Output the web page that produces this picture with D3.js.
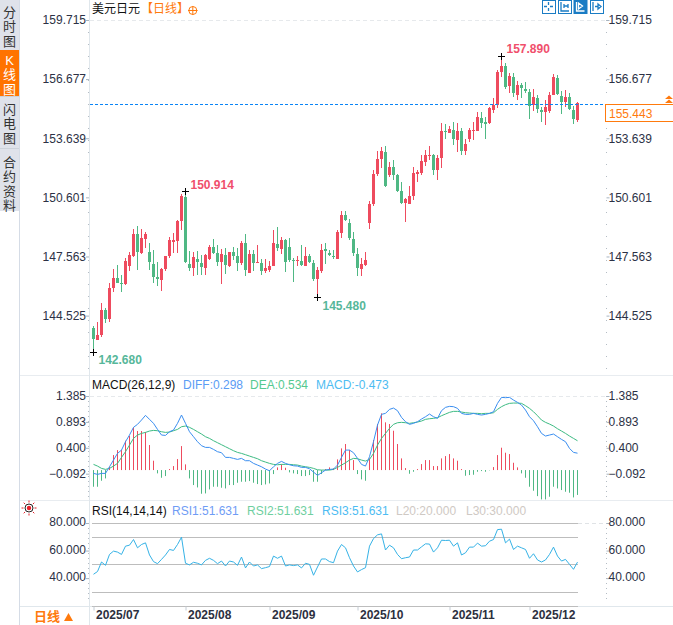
<!DOCTYPE html>
<html>
<head>
<meta charset="utf-8">
<script src="https://cdn.jsdelivr.net/npm/d3@7/dist/d3.min.js"></script>
<style>
  html, body { margin: 0; padding: 0; background: #fff; overflow: hidden; }
  text { font-family: "Liberation Sans", "Noto Sans CJK SC", sans-serif; }
</style>
</head>
<body>
<div id="chart"></div>
<script>
const opens = [
    143.88,143.27,143.53,144.81,144.35,145.94,146.45,146.20,146.15,147.07,
    147.57,148.72,147.72,148.44,147.79,147.17,146.51,146.35,146.92,147.59,
    148.31,148.36,149.39,150.62,147.17,146.97,147.43,147.23,146.97,147.43,
    148.05,147.74,147.28,147.64,147.07,147.79,147.59,147.23,148.26,146.72,
    147.69,147.23,147.23,146.82,146.87,147.07,148.21,147.95,148.41,148.05,
    147.40,147.35,147.33,147.07,147.60,147.23,146.41,146.82,147.95,147.72,
    147.59,147.43,148.77,149.70,149.28,148.46,147.69,146.92,147.13,149.28,
    150.26,151.80,152.57,152.93,151.75,152.16,151.75,150.93,150.31,150.26,
    150.67,151.80,151.84,152.44,152.74,152.78,152.01,152.63,154.03,153.93,
    154.05,153.55,154.00,152.99,153.60,154.01,154.01,154.68,154.47,154.41,
    155.09,155.35,157.04,157.35,156.32,156.77,155.86,156.37,156.17,156.01,
    155.35,155.70,155.09,154.98,155.02,155.86,156.73,155.81,155.50,155.75,155.09,154.57
];
const closes = [
    143.32,143.53,144.81,144.35,145.94,146.45,146.20,146.16,147.33,147.64,
    148.72,147.79,148.51,148.72,147.28,146.51,146.40,146.92,147.59,148.41,
    148.41,149.39,150.67,147.28,146.97,147.52,147.28,147.02,147.64,148.05,
    147.74,147.28,147.69,147.12,147.79,147.59,147.23,148.26,146.87,147.69,
    147.23,147.28,146.82,146.97,147.07,148.26,148.00,148.41,147.28,147.38,
    147.35,147.38,147.13,147.59,147.28,146.41,146.87,147.90,147.85,147.64,
    147.52,148.82,149.70,149.44,148.50,147.74,146.97,147.18,147.38,150.26,
    151.80,152.57,152.98,151.19,152.16,151.75,150.93,150.31,150.52,150.67,
    151.85,151.90,152.47,152.78,152.79,152.01,152.63,154.00,153.96,154.10,
    153.58,154.00,152.99,153.34,154.05,154.06,154.71,154.42,154.37,155.19,
    155.35,157.04,157.35,156.29,156.83,155.94,156.37,156.22,156.06,155.31,
    155.75,155.14,154.98,155.24,155.86,156.78,155.91,155.50,155.75,155.14,154.62,155.443
];
const highs = [
    144.00,144.18,145.15,144.91,146.22,146.90,147.12,146.61,147.46,147.81,
    148.95,149.13,148.95,148.84,148.27,147.89,147.30,146.95,147.59,148.55,
    148.75,149.44,150.77,150.914,147.86,147.81,147.84,147.64,147.69,148.15,
    148.46,148.15,147.93,147.98,147.81,148.03,147.98,148.36,148.72,147.90,
    147.90,148.15,147.43,147.42,147.35,148.92,149.06,148.55,148.46,148.51,
    147.49,147.59,148.15,148.03,147.69,147.38,147.01,148.21,148.26,147.90,
    147.90,148.92,149.90,149.90,149.49,148.82,147.98,147.49,147.79,150.42,
    152.01,152.98,153.21,153.24,152.42,152.52,151.80,151.39,150.57,151.19,
    152.16,152.01,152.78,153.04,153.24,152.83,152.78,154.44,154.37,154.27,
    154.46,154.41,154.15,153.58,154.18,154.46,154.99,154.99,154.75,155.26,
    155.69,157.14,157.89,157.48,157.01,156.97,156.59,156.46,156.53,156.18,
    156.18,155.86,155.26,155.60,156.03,156.94,156.89,156.08,156.11,155.98,155.29,155.50
];
const lows = [
    142.68,143.27,143.44,144.13,144.19,145.75,146.18,145.75,146.10,146.83,
    147.52,146.87,147.69,147.98,146.87,146.22,146.04,145.79,146.83,147.46,
    147.76,147.76,148.92,147.21,146.83,146.56,146.61,146.61,146.61,147.38,
    147.69,147.07,146.15,146.64,147.04,147.38,146.83,147.13,146.56,146.70,
    146.84,147.23,146.61,146.70,146.77,147.07,147.86,147.69,146.77,147.28,
    146.25,147.07,147.07,147.07,147.25,146.30,145.48,146.73,147.18,147.59,
    147.43,147.43,148.51,149.39,148.41,147.59,146.56,146.56,147.07,148.98,
    150.16,151.70,152.11,151.15,151.67,151.49,150.88,150.26,149.34,150.26,
    150.47,151.41,151.75,152.21,152.52,151.75,151.49,152.09,153.62,153.89,
    153.29,152.93,152.78,152.78,153.46,153.55,154.01,154.15,153.60,154.37,
    154.95,155.17,156.80,156.18,155.94,155.74,155.60,155.72,155.94,154.62,
    155.05,154.92,154.47,154.32,154.92,155.86,155.86,154.88,155.26,155.09,154.37,154.49
];
const diffs = [
    -0.086,-0.105,-0.086,-0.086,0.040,0.167,0.294,0.357,0.516,0.643,
    0.789,0.846,0.928,1.017,0.941,0.865,0.750,0.643,0.636,0.706,
    0.738,0.865,1.023,0.865,0.706,0.611,0.516,0.440,0.408,0.408,
    0.370,0.326,0.307,0.218,0.218,0.199,0.180,0.199,0.155,0.155,
    0.104,0.072,0.040,-0.004,-0.036,0.040,0.104,0.142,0.104,0.078,
    0.059,0.053,0.028,0.028,0.002,-0.061,-0.124,-0.074,-0.023,-0.010,
    -0.004,0.072,0.218,0.357,0.357,0.307,0.199,0.085,0.053,0.231,
    0.516,0.833,1.036,1.055,1.131,1.156,1.106,0.979,0.896,0.846,
    0.865,0.896,0.947,0.991,1.042,0.991,0.960,1.106,1.169,1.188,
    1.182,1.150,1.055,1.036,1.036,1.055,1.036,1.023,1.036,1.055,
    1.086,1.245,1.359,1.353,1.359,1.308,1.264,1.213,1.118,0.991,
    0.915,0.801,0.674,0.624,0.643,0.662,0.611,0.560,0.516,0.389,0.313,0.298
];
const deas = [
    0.085,0.053,0.009,-0.010,0.009,0.053,0.104,0.218,0.326,0.452,
    0.579,0.643,0.674,0.693,0.719,0.731,0.725,0.706,0.693,0.700,
    0.725,0.750,0.801,0.814,0.789,0.750,0.706,0.662,0.611,0.579,
    0.535,0.497,0.459,0.421,0.383,0.345,0.313,0.294,0.269,0.243,
    0.218,0.193,0.155,0.129,0.104,0.085,0.078,0.085,0.085,0.085,
    0.078,0.072,0.053,0.040,0.028,0.009,-0.017,-0.023,-0.023,-0.023,
    -0.010,0.028,0.072,0.116,0.167,0.199,0.193,0.167,0.148,0.180,
    0.294,0.452,0.579,0.674,0.769,0.846,0.877,0.884,0.877,0.865,
    0.877,0.890,0.909,0.941,0.953,0.960,0.973,1.010,1.042,1.074,
    1.093,1.093,1.080,1.067,1.061,1.055,1.055,1.048,1.055,1.055,
    1.067,1.131,1.182,1.220,1.245,1.251,1.251,1.245,1.201,1.150,
    1.086,1.010,0.928,0.884,0.852,0.814,0.763,0.719,0.674,0.624,0.579,0.534
];
const macdBars = [
    -0.317,-0.317,-0.203,-0.159,0.063,0.285,0.380,0.380,0.558,0.647,
    0.812,0.742,0.742,0.723,0.476,0.178,-0.063,-0.146,-0.114,0.019,
    0.076,0.209,0.456,0.108,-0.159,-0.285,-0.330,-0.450,-0.444,-0.368,
    -0.317,-0.317,-0.336,-0.349,-0.285,-0.285,-0.241,-0.222,-0.222,-0.209,
    -0.241,-0.266,-0.285,-0.273,-0.254,-0.076,0.051,0.108,0.044,-0.044,
    -0.063,-0.076,-0.114,-0.114,-0.095,-0.222,-0.222,-0.076,0.019,0.051,
    0.032,0.203,0.412,0.495,0.380,0.190,-0.076,-0.178,-0.203,0.222,
    0.571,0.875,1.078,0.907,0.875,0.748,0.495,0.222,0.038,-0.070,
    -0.032,0.019,0.114,0.190,0.190,0.076,0.076,0.222,0.266,0.304,
    0.222,0.178,0.019,-0.108,-0.095,-0.089,-0.032,-0.019,-0.032,-0.006,
    0.057,0.285,0.425,0.330,0.304,0.139,0.051,-0.063,-0.146,-0.317,
    -0.393,-0.495,-0.558,-0.558,-0.507,-0.317,-0.349,-0.380,-0.412,-0.431,-0.520,-0.473
];
const rsi = [
    42.8,44.8,51.7,49.3,57.2,59.6,58.9,57.2,63.2,63.9,
    68.0,62.0,64.4,65.6,56.8,52.0,50.5,53.6,56.8,60.8,
    60.1,64.4,69.7,50.8,49.6,51.5,50.8,49.6,52.9,54.4,
    52.9,50.5,52.4,48.8,52.4,51.7,49.3,55.3,47.4,51.7,
    48.8,49.6,46.9,47.6,48.4,56.0,54.4,56.0,48.8,49.6,
    49.1,49.6,47.4,50.8,50.0,42.1,48.1,53.9,53.9,52.0,
    51.2,59.6,64.4,62.0,54.8,48.8,44.5,46.2,47.6,63.2,
    68.7,71.4,72.1,60.4,63.9,62.0,57.2,54.1,54.8,55.3,
    60.4,60.4,62.7,64.9,64.7,58.9,62.0,67.5,67.3,67.5,
    63.2,65.6,56.8,58.4,62.5,62.5,65.4,63.2,63.5,66.8,
    68.0,75.2,75.5,65.6,68.3,60.8,63.2,62.0,60.8,54.4,
    57.7,53.2,51.7,53.2,57.2,62.5,56.0,52.4,53.6,50.0,46.4,51.631
];

const priceTicks = [159.715, 156.677, 153.639, 150.601, 147.563, 144.525];
const macdTicks = [1.385, 0.893, 0.400, -0.092];
const rsiTicks = [80, 60, 40];
const rsiLevels = [80, 70, 50, 30, 20];
const monthLabels = ['2025/07', '2025/08', '2025/09', '2025/10', '2025/11', '2025/12'];
const monthStarts = [0, 23, 44, 66, 89, 109];
const lastPrice = 155.443;

const sideTabs = [
    { chars: ['分', '时', '图'], top: 0, h: 50, first: 17 },
    { chars: ['K', '线', '图'], top: 50, h: 46, first: 15, on: true },
    { chars: ['闪', '电', '图'], top: 97, h: 51, first: 17 },
    { chars: ['合', '约', '资', '料'], top: 149, h: 62, first: 18 }
];

const RED = '#ee4b5e', GREEN = '#4fb884', ORANGE = '#ff7a0d';
const TXT = '#2c3145', LINE = '#e0e7ec';
const width = 673, height = 625;
const axisL = 90, axisR = 606.5, plotEnd = 578;

const svg = d3.select('#chart').append('svg')
    .attr('width', width).attr('height', height)
    .style('display', 'block');

const x = d3.scaleLinear().domain([0, closes.length - 1]).range([93.5, 577.5]);
const yPrice = d3.scaleLinear().domain([142.68, 159.715]).range([351.5, 20]);
const yMacd = d3.scaleLinear().domain([-0.092, 1.385]).range([473.7, 396]);
const yRsi = d3.scaleLinear().domain([20, 80]).range([605.7, 523]);

// sidebar
svg.append('rect').attr('x', 0).attr('y', 0).attr('width', 19).attr('height', 211).attr('fill', '#dfe2ea');
svg.append('line').attr('x1', 19.5).attr('x2', 19.5).attr('y1', 0).attr('y2', height)
    .attr('stroke', '#d5dce6');
sideTabs.forEach(t => {
    if (t.on) {
        svg.append('rect').attr('x', 0).attr('y', t.top).attr('width', 19).attr('height', t.h).attr('fill', '#ff7300');
    } else if (t.top > 0) {
        svg.append('line').attr('x1', 0).attr('x2', 19).attr('y1', t.top - 0.5).attr('y2', t.top - 0.5).attr('stroke', '#ccd2da');
    }
    t.chars.forEach((c, i) => {
        svg.append('text').attr('x', 9.5).attr('y', t.top + t.first + i * 14.3)
            .attr('text-anchor', 'middle').attr('font-size', 13)
            .attr('fill', t.on ? '#fff' : '#333').text(c);
    });
});

// panel frames
function hline(y, x1, x2, color) {
    svg.append('line').attr('x1', x1).attr('x2', x2).attr('y1', y).attr('y2', y).attr('stroke', color);
}
hline(375.5, 20, width, '#e8ecf0');
hline(500.5, 20, width, '#e8ecf0');
hline(606.5, 20, width, LINE);
svg.append('line').attr('x1', axisL - 0.5).attr('x2', axisL - 0.5).attr('y1', 0).attr('y2', height).attr('stroke', LINE);

// dotted axis rails, the price panel has wider spacing
function rail(xp, y1, y2, gap) {
    svg.append('line').attr('x1', xp).attr('x2', xp).attr('y1', y1).attr('y2', y2)
        .attr('stroke', '#b4bcc4').attr('stroke-dasharray', '1,' + gap);
}
[axisL - 1.5, axisR].forEach(xp => {
    rail(xp, 20, 372, 11);
    rail(xp, 396, 498, 4);
    rail(xp, 523, 603, 4);
});

// top dashed guides
[[yPrice(159.715), axisR], [yMacd(1.385), axisR]].forEach(d => {
    svg.append('line').attr('x1', axisL).attr('x2', d[1]).attr('y1', Math.round(d[0]) + 0.5).attr('y2', Math.round(d[0]) + 0.5)
        .attr('stroke', '#e6e9ec').attr('stroke-dasharray', '4,3');
});
svg.append('line').attr('x1', plotEnd).attr('x2', axisR).attr('y1', 523.5).attr('y2', 523.5)
    .attr('stroke', '#e0e3e6').attr('stroke-dasharray', '4,3');

// axes both sides of each panel
function drawAxes(scale, ticks, fmt, lift) {
    [[d3.axisLeft, axisL - 1], [d3.axisRight, axisR]].forEach((a, n) => {
        const g = svg.append('g').attr('transform', `translate(${a[1]},0)`)
            .call(a[0](scale).tickValues(ticks).tickFormat(fmt).tickSize(3).tickPadding(n ? -1 : 0));
        g.select('.domain').remove();
        g.selectAll('line').attr('stroke', '#a8b4c0');
        g.selectAll('text').attr('font-size', 12).attr('fill', TXT)
            .attr('y', -lift)
            .attr('font-family', '"Liberation Sans", sans-serif');
    });
}
drawAxes(yPrice, priceTicks, d3.format('.3f'), 0);
drawAxes(yMacd, macdTicks, d3.format('.3f'), 0);
drawAxes(yRsi, rsiTicks, d3.format('.3f'), 1);

// candles
const idx = d3.range(closes.length);
const upColor = i => closes[i] >= opens[i] ? RED : GREEN;
svg.append('g').selectAll('rect').data(idx).enter().append('rect')
    .attr('x', i => x(i) - 0.5).attr('width', 1)
    .attr('y', i => Math.round(yPrice(highs[i])))
    .attr('height', i => Math.max(1, Math.round(yPrice(lows[i])) - Math.round(yPrice(highs[i]))))
    .attr('fill', upColor);
svg.append('g').selectAll('rect').data(idx).enter().append('rect')
    .attr('x', i => x(i) - 1.5).attr('width', 3)
    .attr('y', i => Math.round(yPrice(Math.max(opens[i], closes[i]))))
    .attr('height', i => Math.max(1, Math.round(yPrice(Math.min(opens[i], closes[i]))) - Math.round(yPrice(Math.max(opens[i], closes[i])))))
    .attr('fill', upColor);

// last price line and box
const lastY = Math.ceil(yPrice(lastPrice)) + 0.5;
svg.append('line').attr('x1', axisL).attr('x2', axisR).attr('y1', lastY).attr('y2', lastY)
    .attr('stroke', '#0a84f5').attr('stroke-dasharray', '3,2');
svg.append('rect').attr('x', 605.5).attr('y', lastY).attr('width', 68).attr('height', 17)
    .attr('fill', '#fff').attr('stroke', ORANGE);
svg.append('text').attr('x', 609).attr('y', lastY + 13).attr('font-size', 12).attr('fill', ORANGE).text(lastPrice.toFixed(3));
svg.append('path').attr('d', 'M665 99 L669 95.5 L673 99 Z M665 103 L669 99.5 L673 103 Z').attr('fill', ORANGE);

// high and low marks
const marks = [
    { i: 0, v: 142.68, dx: 5, y: 364, c: '#56b79a' },
    { i: 23, v: 150.914, dx: 5, y: 189, c: '#f04f6c' },
    { i: 56, v: 145.48, dx: 5, y: 310, c: '#56b79a' },
    { i: 102, v: 157.89, dx: 5, y: 52.5, c: '#f04f6c' }
];
marks.forEach(m => {
    const cx = x(m.i), cy = Math.round(yPrice(m.v)) + 0.5;
    svg.append('path').attr('d', `M${cx - 3.5} ${cy} H${cx + 3.5} M${cx} ${cy - 3.5} V${cy + 3.5}`)
        .attr('stroke', '#000').attr('fill', 'none');
    svg.append('text').attr('x', cx + m.dx).attr('y', m.y).attr('font-size', 12)
        .attr('font-weight', 'bold').attr('fill', m.c).text(m.v.toFixed(3));
});

// macd
const macdZero = yMacd(-0.023);
svg.append('g').selectAll('line').data(idx).enter().append('line')
    .attr('x1', i => x(i)).attr('x2', i => x(i))
    .attr('y1', macdZero)
    .attr('y2', i => macdZero - (yMacd(0) - yMacd(macdBars[i])))
    .attr('stroke', i => macdBars[i] >= 0 ? RED : GREEN);
const macdLine = s => d3.line().x((d, i) => x(i)).y(d => yMacd(d))(s);
svg.append('path').attr('d', macdLine(deas)).attr('fill', 'none').attr('stroke', '#3dbb83');
svg.append('path').attr('d', macdLine(diffs)).attr('fill', 'none').attr('stroke', '#3a8ef0');

// rsi
rsiLevels.forEach(v => {
    const yy = Math.round(yRsi(v)) + 0.5;
    svg.append('line').attr('x1', 92).attr('x2', plotEnd).attr('y1', yy).attr('y2', yy).attr('stroke', '#bdbdbd');
});
svg.append('path').datum(rsi)
    .attr('d', d3.line().x((d, i) => x(i)).y(d => yRsi(d)))
    .attr('fill', 'none').attr('stroke', '#35b2e6');

// month axis
const monthAxis = svg.append('g').attr('transform', 'translate(0,606.5)')
    .call(d3.axisBottom(x).tickValues(monthStarts).tickSize(4).tickPadding(2)
        .tickFormat((d, i) => monthLabels[i]));
monthAxis.select('.domain').remove();
monthAxis.selectAll('line').attr('stroke', '#c4ccd4');
monthAxis.selectAll('text').attr('text-anchor', 'start').attr('x', 2).attr('y', 4).attr('dy', '0.71em')
    .attr('font-size', 12).attr('font-weight', 'bold').attr('fill', '#2c3040')
    .attr('font-family', '"Liberation Sans", sans-serif');

svg.append('text').attr('x', 34).attr('y', 621).attr('font-size', 13).attr('font-weight', 'bold')
    .attr('fill', ORANGE).text('日线');
svg.append('path').attr('d', 'M64 621 L68.5 613 L73 621 Z').attr('fill', ORANGE);

// titles and legends
function label(xp, yp, s, color) {
    svg.append('text').attr('x', xp).attr('y', yp).attr('font-size', 12).attr('fill', color).text(s);
}
label(92, 13, '美元日元', '#111');
label(141, 13, '【日线】', ORANGE);
svg.append('circle').attr('cx', 192.8).attr('cy', 10.5).attr('r', 4).attr('fill', 'none').attr('stroke', ORANGE);
svg.append('path').attr('d', 'M188 10.5 H197.5 M192.8 6 V15').attr('stroke', ORANGE);

label(92, 389, 'MACD(26,12,9)', '#111');
label(183, 389, 'DIFF:0.298', '#5a9cf5');
label(250, 389, 'DEA:0.534', '#55c990');
label(316, 389, 'MACD:-0.473', '#4dbcf2');

label(92, 515, 'RSI(14,14,14)', '#111');
label(172, 515, 'RSI1:51.631', '#6f9cf5');
label(247, 515, 'RSI2:51.631', '#6fcf9f');
label(322, 515, 'RSI3:51.631', '#4dbcf2');
label(396, 515, 'L20:20.000', '#cfc9c4');
label(466, 515, 'L30:30.000', '#cfc9c4');

// little sun next to rsi
const sun = svg.append('g').attr('transform', 'translate(29,508)');
d3.range(8).forEach(k => {
    const a = k * Math.PI / 4;
    sun.append('line').attr('x1', Math.cos(a) * 5.5).attr('y1', Math.sin(a) * 5.5)
        .attr('x2', Math.cos(a) * 7.5).attr('y2', Math.sin(a) * 7.5).attr('stroke', '#e8202a');
});
sun.append('circle').attr('r', 4).attr('fill', '#fff').attr('stroke', '#222');
sun.append('circle').attr('r', 2.2).attr('fill', '#e8202a');

// toolbar icons top right
const icons = [
    { x: 542, p: 'M6.5 2 V5 M6.5 8 V11 M2 6.5 H5 M8 6.5 H11', on: false },
    { x: 558, p: 'M3 2 V11 H11 M6 4 V8 M10 4 V8 M6 6 H10', on: false },
    { x: 573.5, p: 'M3 2 V11 H11 M5 3 V9 L9 6 Z', on: true },
    { x: 590, p: 'M3 2 V11 M5 6.5 H8 M8 4 L11 6.5 L8 9 Z', on: false }
];
icons.forEach(ic => {
    const g = svg.append('g').attr('transform', `translate(${ic.x},0)`);
    g.append('rect').attr('x', 0.5).attr('y', 0.5).attr('width', 13).attr('height', 13)
        .attr('fill', ic.on ? '#1a7cc4' : '#fff').attr('stroke', '#1a7cc4');
    g.append('path').attr('d', ic.p).attr('fill', 'none')
        .attr('stroke', ic.on ? '#fff' : '#1a7cc4').attr('stroke-width', 1.3);
});
</script>
</body>
</html>
